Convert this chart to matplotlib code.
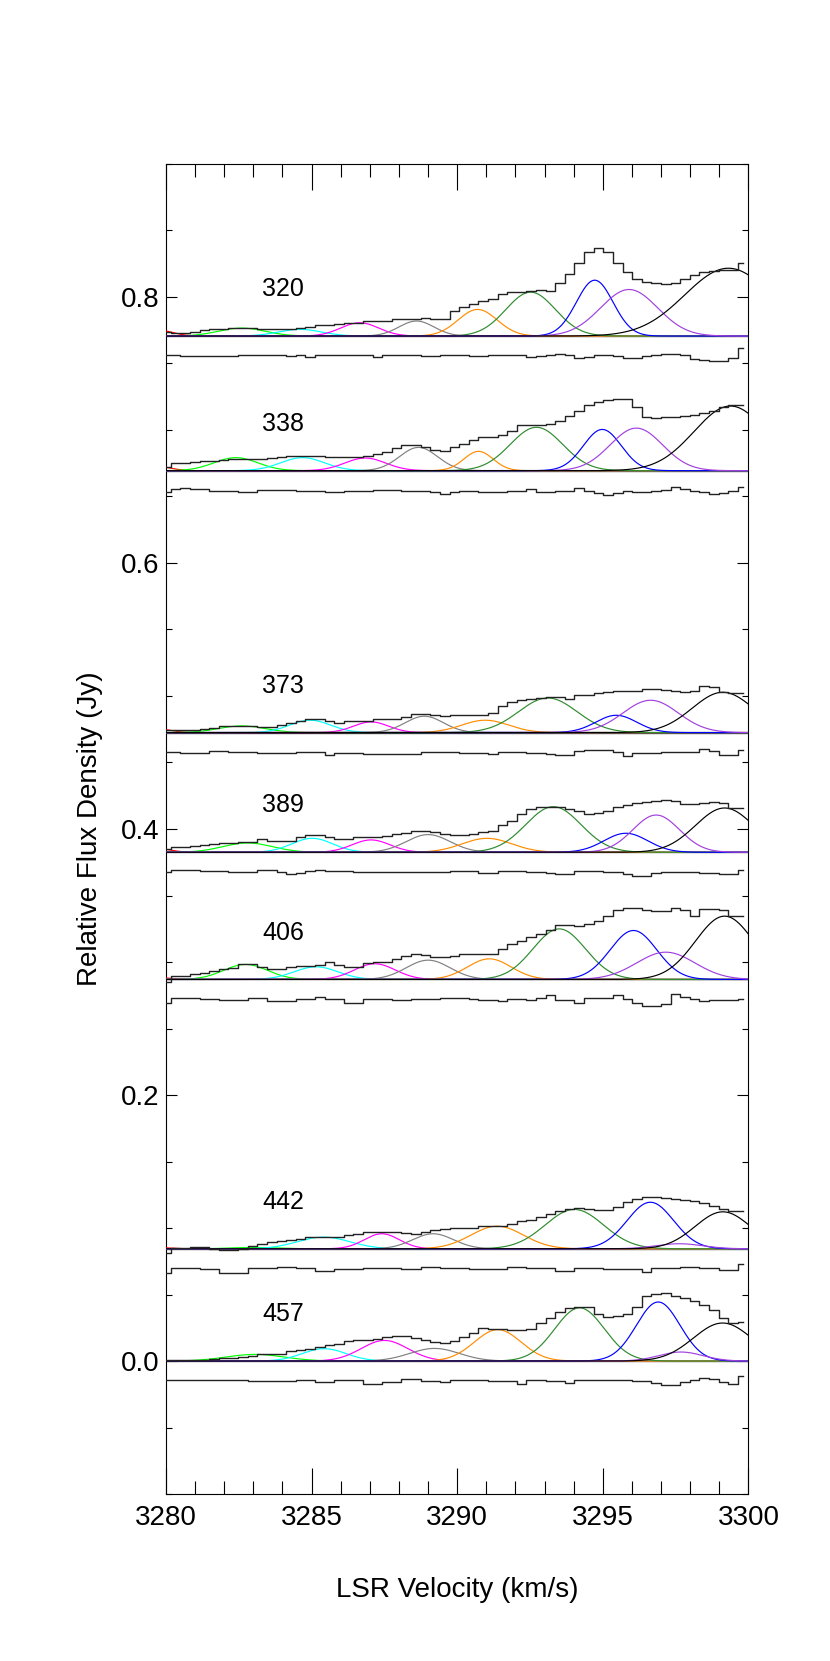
import numpy as np
import matplotlib
matplotlib.use("Agg")
import matplotlib.pyplot as plt
from matplotlib.ticker import MultipleLocator, FormatStrFormatter

plt.rcParams['font.family'] = ['Liberation Sans', 'DejaVu Sans']

# ---------------- data ----------------
epochs = [320, 338, 373, 389, 406, 442, 457]
offsets = [0.7706, 0.6694, 0.4725, 0.3825, 0.2869, 0.0844, 0.0]   # Jy, vertical shift of each spectrum
resid_shift = -0.015                                               # Jy, residual below each spectrum

v_start = 3280.0      # km/s, first channel
chan_width = 0.33     # km/s
n_chan = 61

# observed spectra (mJy above each baseline), one value per channel
flux_320 = [3, 2.5, 2.5, 3, 4.5, 5, 5.5, 6, 6, 6, 5.5, 5.5, 5, 5, 6, 7, 8.5, 8.5, 9, 9.5,
            10, 11, 11.5, 11.5, 12.5, 13, 13, 13.5, 13, 12.5, 19, 22, 24, 26.5, 28, 31.5, 33, 33.5, 34, 34.5,
            34, 40, 47, 55, 63, 66, 63, 55, 48, 43, 40.5, 40, 39.5, 40, 43, 46, 48.5, 49, 50, 50, 55]
flux_338 = [3, 6, 6, 6.5, 7, 7, 8, 8.5, 9, 9, 9, 9.5, 10.5, 11, 11, 11, 11, 10.5, 10.5, 10.5,
            10, 11, 12.5, 14, 17, 19.5, 19.5, 18, 15.5, 14.5, 18, 20, 23, 25, 25.5, 27, 29.5, 34, 34, 34,
            35, 37.5, 41, 45, 49, 51.5, 53, 54, 54, 48, 40, 39.5, 40, 40.5, 41, 42, 43.5, 45, 48, 49, 49.5]
flux_373 = [1.8, 1.8, 2, 2.2, 2.5, 3.8, 5, 5.2, 5.2, 5, 4.2, 4.5, 5.5, 7.2, 9, 10, 10, 8.5, 7.5, 9,
            8.8, 8.8, 10, 10.5, 10.5, 11.5, 14, 14.2, 13.5, 12.2, 13, 13, 13, 13.5, 15, 19.8, 23, 24.5, 25.5, 26.2,
            26.8, 26.5, 25.5, 28, 28.5, 29.8, 30.5, 31, 31.2, 31.5, 33, 32.5, 32, 31.2, 30.5, 31.5, 34.8, 34.5, 30.2, 30, 30]
flux_389 = [2.5, 3.8, 4.2, 4.8, 5.8, 6.2, 6.8, 7.2, 7.5, 7.5, 10, 8.8, 8.8, 8.2, 11.2, 13, 13, 11.2, 10, 10,
            11.2, 11.2, 11.8, 12.5, 13.8, 14.5, 15.8, 15.8, 15.2, 13.8, 13, 13, 13.8, 15, 16.2, 20.8, 23.2, 28.8, 32.5, 34.2,
            34.2, 33.8, 32.5, 30.8, 28.8, 29.2, 30.8, 33.8, 35.8, 37, 37.5, 38.8, 39.5, 38.2, 36.2, 36.2, 36.8, 37.5, 37.2, 33.2, 33.2]
flux_406 = [-2, 2.5, 2.5, 3.8, 5, 6, 8, 8.8, 11.8, 11.8, 9.5, 8, 8, 9.5, 10, 10, 11.2, 13, 10.5, 9,
            9.5, 12, 13, 13, 15, 18, 18.8, 18.5, 16.8, 17, 18, 18.8, 19, 19.2, 19.5, 23, 27, 29.2, 31.8, 33.8,
            37.5, 41.2, 41.2, 40, 42, 43.8, 48, 52.5, 53.5, 53.8, 52.5, 51.2, 51.2, 53.8, 52, 47.5, 53, 53.2, 52.5, 48, 47.5]
flux_442 = [-3, 0.8, 0.8, 1.2, 1.2, -0.5, -1.2, -1.2, 0.2, 2, 3.8, 5.2, 6.2, 6.8, 7.2, 8.8, 8.8, 8.8, 8.8, 10.2,
            11.2, 12.5, 12.8, 12.8, 12.8, 12, 11.2, 12.8, 14, 15, 15.8, 15.8, 15.8, 17, 17.5, 17.5, 19, 20.8, 22, 23.8,
            26.2, 28.2, 30, 30.8, 30.2, 29.5, 29.5, 31.2, 35.2, 37.5, 38.8, 38.8, 38.2, 37.5, 36.8, 35.8, 34.2, 32, 30.2, 28.2, 28.2]
flux_457 = [0.5, 0.5, 0.8, 0.8, 1, 1.5, 2, 2.5, 3, 3.5, 5, 5, 5, 7.5, 8, 9.2, 10.5, 11.8, 13, 14.8,
            15.5, 16, 16.5, 18, 18.8, 18.5, 17.5, 15.5, 14, 13.5, 15, 18, 21.2, 24.8, 24.2, 24.2, 23, 23, 24.2, 28.5,
            32.5, 36.8, 39.8, 40.5, 40.5, 35.5, 33, 33.5, 35.5, 40.5, 49.2, 50.5, 51, 49.2, 47.5, 45.5, 42.5, 38.5, 32.5, 28.8, 29.2]

# fit residuals (mJy)
resid_320 = [1, 1, 0, 0, 0, 0, 0, 0, 0.5, 1, 1, 1, 0.5, 0, 0.5, -0.5, 0.5, 1, 1, 0.5,
             0.5, 0.5, -0.5, 0.5, 0.5, 1, 0.5, 0, 0, 0.5, 0.5, 0.5, 0, 0, 0.5, 0.5, 0.5, 0.5, -0.5, 0,
             0.5, 1.5, 1, -1.5, -0.5, 1, 1, 0, -1.5, -1.5, 0, 1, 1.5, 1.5, 0.5, -2, -3, -3.5, -4, -1.5, 6]
resid_338 = [-1.2, 1.5, 1.8, 1.5, 1, 0, -0.5, -0.5, -1.2, -1.2, 0.5, 0.5, 0.5, 0.5, -0.5, -0.5, -0.5, -1.2, -1.2, -0.5,
             -0.5, -0.5, 0.5, 0.5, 0.5, 0, -0.5, -0.5, -1, -2.5, -1, -0.5, -0.5, -1.2, -1.2, -1.2, 0, 0, 1.2, -1.2,
             -1, 0, 0, 1.8, 0, -2, -3, -2, 0, -1.2, -1, 0, 0.5, 2.5, 1.5, 0, -1.2, -2.5, -1.5, 0, 3]
resid_373 = [0.5, 0.5, 0, -0.2, -0.2, 1.2, 1.2, 0.5, 0.5, 0.5, 0, -0.2, -0.2, -0.2, 0.5, 0.5, 0.5, -2, -0.2, -0.2,
             -0.2, -0.8, -0.8, -0.8, -1.2, -1.2, -0.8, 0.5, 0.5, 0.5, 0.5, 0, 0, 0, -1.2, 0.5, 0.5, 0.5, 0, -0.2,
             -0.8, -1.5, -2, 1, 2.2, 2.2, 2, 0.5, -2.8, -0.2, -0.2, -0.2, 0.5, 0.5, 0.5, 0.5, 3, 1, -2, -2, 2.2]
resid_389 = [0, 1.8, 1.8, 1.8, 1.2, 1.2, 1.2, 0, 0, 0, 1.8, 1.8, 0, -1.2, -0.8, 0.8, 1.8, 0.8, 0.8, 0.8,
             0, 0, 0, 0, 0, 0, 0.5, 0.5, 0.5, 0.5, 0.8, 0.8, 0.8, -0.8, -0.8, 0.8, 0.8, 0.8, 0.5, 0,
             -0.5, -1.2, -1.2, 0.8, 0.8, 0.8, 0.5, 0, -1, -2.5, -2.5, -0.8, 0, 0, 0, 0, -0.8, -0.8, -1.2, -1.2, 1.8]
resid_406 = [-2.5, 1.2, 1.2, 1.2, 0, 0, -0.5, -0.5, -0.5, 1.2, 1.2, -1.2, -1.2, -1.2, 0, 0, 1.8, 0.5, 0.5, -2.5,
             -2.5, 0.5, 0.5, 0.5, -0.8, -0.8, 0, 0.5, 0.5, 1.2, 1.2, 1.2, 0, -0.5, -0.5, -1.2, 0.5, 0.5, -0.5, 1.2,
             3, -0.5, -0.5, -2.5, 1.2, 1.2, 1.2, 3, 0.5, -2.5, -5, -5, -3.8, 3.8, 2, 0, -1.2, -0.5, -0.5, -0.5, 0.5]
resid_442 = [-3, 0.8, 0.8, 0.8, -0.5, -0.5, -3, -3, -3, 0.8, 0.8, 0.8, 1.2, 1.2, 0.8, 0.8, -1.8, -1.8, -0.5, -0.5,
             -0.5, 0.2, 0.2, 0.2, 0.2, -0.5, -0.5, 1.2, 1.2, 0.2, 0.2, 0.2, -0.5, -0.5, -0.5, -0.5, 1.2, 1.2, 0.2, 0.2,
             0.2, -1.8, -1.8, 0.8, 0.8, 0.8, -0.5, -0.5, -0.5, -0.5, -2.2, 0.2, 0.2, 0.2, 1.2, 1.2, 0.2, 0.2, -1.2, -1.2, 3.2]
resid_457 = [0.5, 0.5, 0.5, 0.5, 0.5, 0.5, 0.5, 0.5, 0.5, 0, 0, 0, 0, 0, 0.5, 0.5, -0.8, -0.8, 0.5, 0.5,
             0.5, -2, -2, -0.8, -0.8, 1.5, 1.5, 0, 0, -0.8, 0.5, 0.5, 0.5, 0.5, -0.2, -0.2, -0.2, -2, 1, 1,
             0, 0, -1.5, 0.5, 0.5, 0.5, 0.5, 0.5, 0.5, 0, 0, -1.5, -3, -3, -0.8, 1, 2.5, 1.5, -0.8, -2.5, 3.5]

# Gaussian components: (centre km/s, amplitude mJy, sigma km/s), order: red, lime, cyan, magenta,
# gray, orange, green, blue, purple, black
comp_colors = ['red', '#00ff00', 'cyan', 'magenta', 'gray', '#ff8c00', '#2e8b2e', 'blue', '#a040e0', 'black']
comps_320 = [(3279.6, 5.0, 0.55), (3282.6, 6.0, 0.8), (3284.6, 5.0, 0.75), (3286.65, 10.0, 0.65), (3288.6, 11.3, 0.6),
             (3290.7, 20.0, 0.67), (3292.52, 33.0, 0.85), (3294.72, 42.0, 0.63), (3295.9, 35.0, 0.98), (3299.31, 51.0, 1.5)]
comps_338 = [(3279.6, 3.5, 0.5), (3282.4, 9.8, 0.75), (3284.69, 9.8, 0.75), (3286.84, 9.5, 0.7), (3288.67, 17.5, 0.65),
             (3290.73, 14.5, 0.5), (3292.72, 32.6, 0.9), (3294.98, 31.0, 0.65), (3296.15, 32.0, 0.9), (3299.38, 48.6, 1.25)]
comps_373 = [(3279.6, 3.0, 0.5), (3282.6, 5.0, 0.8), (3284.95, 9.3, 0.7), (3287.04, 8.0, 0.6), (3288.87, 12.3, 0.65),
             (3290.96, 9.3, 0.8), (3293.11, 26.0, 1.0), (3295.46, 13.0, 0.7), (3296.64, 24.3, 0.95), (3299.12, 30.3, 1.05)]
comps_389 = [(3279.6, 3.0, 0.5), (3282.8, 7.0, 0.85), (3285.02, 10.5, 0.7), (3287.04, 9.3, 0.65), (3289.0, 13.3, 0.75),
             (3291.02, 10.5, 0.85), (3293.3, 34.3, 0.95), (3295.79, 14.3, 0.75), (3296.83, 28.0, 0.8), (3299.18, 33.3, 1.0)]
comps_406 = [(3279.6, 1.5, 0.5), (3282.73, 11.3, 0.75), (3285.15, 9.5, 0.75), (3287.17, 11.8, 0.7), (3289.0, 14.5, 0.75),
             (3291.1, 15.5, 0.75), (3293.5, 38.0, 0.9), (3296.05, 36.8, 0.8), (3297.16, 20.5, 1.0), (3299.18, 47.6, 1.0)]
comps_442 = [(3279.6, 1.0, 0.5), (3283.0, 1.0, 0.8), (3285.41, 8.8, 0.9), (3287.41, 11.3, 0.6), (3289.17, 11.3, 0.7),
             (3291.37, 17.0, 0.9), (3294.02, 29.6, 1.0), (3296.63, 35.0, 0.8), (3297.62, 3.8, 0.8), (3299.12, 27.8, 0.95)]
comps_457 = [(3279.6, 0.5, 0.5), (3283.06, 5.0, 1.0), (3285.43, 9.3, 0.75), (3287.5, 15.5, 0.8), (3289.22, 9.5, 0.85),
             (3291.39, 23.6, 0.8), (3294.2, 40.0, 0.85), (3296.9, 44.4, 0.75), (3297.68, 6.8, 0.75), (3299.11, 28.6, 1.0)]

fluxes = [flux_320, flux_338, flux_373, flux_389, flux_406, flux_442, flux_457]
resids = [resid_320, resid_338, resid_373, resid_389, resid_406, resid_442, resid_457]
comps = [comps_320, comps_338, comps_373, comps_389, comps_406, comps_442, comps_457]

# ---------------- plot ----------------
fig = plt.figure(figsize=(8.30, 16.61), dpi=100)
ax = fig.add_axes([0.2, 0.1005, 0.7018, 0.8008])

vel = v_start + chan_width * np.arange(n_chan)
vfine = np.linspace(3280.0, 3300.0, 1201)

for ep, off, fl, rs, cp in zip(epochs, offsets, fluxes, resids, comps):
    for (c, a, s), col in zip(cp, comp_colors):
        ax.plot(vfine, off + a / 1000.0 * np.exp(-0.5 * ((vfine - c) / s) ** 2),
                color=col, lw=0.85, zorder=3)
    ax.axhline(off, color='black', lw=0.9, zorder=2)
    ax.step(vel, off + np.asarray(fl) / 1000.0, where='mid', color='#222222', lw=1.0, zorder=4)
    ax.step(vel, off + resid_shift + np.asarray(rs) / 1000.0, where='mid', color='#222222', lw=1.0, zorder=4)
    ax.text(3283.3, off + 0.03, str(ep), fontsize=18, ha='left', va='baseline')

ax.set_xlim(3280, 3300)
ax.set_ylim(-0.1, 0.9)
ax.xaxis.set_major_locator(MultipleLocator(5))
ax.xaxis.set_minor_locator(MultipleLocator(1))
ax.yaxis.set_major_locator(MultipleLocator(0.2))
ax.yaxis.set_minor_locator(MultipleLocator(0.05))
ax.yaxis.set_major_formatter(FormatStrFormatter('%.1f'))
ax.tick_params(axis='both', which='both', direction='in', top=True, right=True, width=0.8, labelsize=20)
ax.tick_params(axis='x', which='major', length=18.5, pad=8)
ax.tick_params(axis='x', which='minor', length=9.5)
ax.tick_params(axis='y', which='major', length=8, pad=5)
ax.tick_params(axis='y', which='minor', length=4.3)
for sp in ax.spines.values():
    sp.set_linewidth(0.8)

ax.set_xlabel('LSR Velocity (km/s)', fontsize=20)
ax.xaxis.set_label_coords(0.5, -0.0624)
ax.set_ylabel('Relative Flux Density (Jy)', fontsize=20)
ax.yaxis.set_label_coords(-0.108, 0.5)

fig.savefig('out.png', dpi=100)
